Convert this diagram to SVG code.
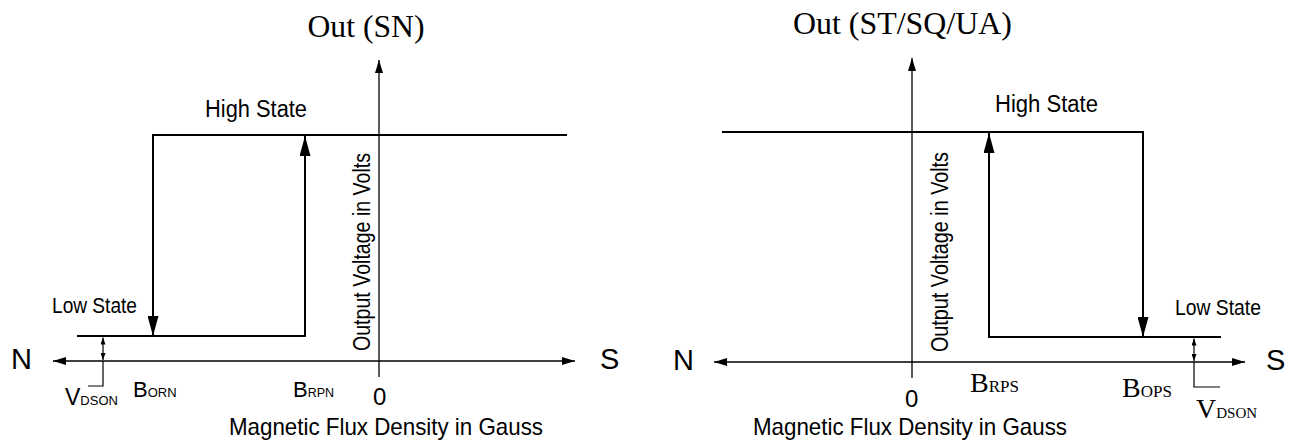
<svg xmlns="http://www.w3.org/2000/svg" width="1296" height="441" viewBox="0 0 1296 441">
  <style>
    .axis { fill: none; stroke: #000; stroke-width: 1.3; }
    .state { fill: none; stroke: #000; stroke-width: 2; }
    .thin { fill: none; stroke: #000; stroke-width: 1.2; }
    .sans { font-family: "Liberation Sans", Arial, sans-serif; fill: #000; }
    .serif { font-family: "Liberation Serif", "Times New Roman", serif; fill: #000; }
    .lbl { font-size: 22px; }
    .hi { font-size: 23px; }
    .rot { font-size: 23px; }
    .pole { font-size: 29px; }
    .title { font-size: 31px; }
  </style>
  <defs>
    <marker id="ahBig" markerUnits="userSpaceOnUse" markerWidth="20" markerHeight="11" refX="20" refY="5.5" orient="auto">
      <path d="M0,0 L20,5.5 L0,11 z" fill="#000"/>
    </marker>
    <marker id="ahAxis" markerUnits="userSpaceOnUse" markerWidth="13" markerHeight="8" refX="13" refY="4" orient="auto-start-reverse">
      <path d="M0,0 L13,4 L0,8 z" fill="#000"/>
    </marker>
    <marker id="ahSmall" markerUnits="userSpaceOnUse" markerWidth="7" markerHeight="5" refX="7" refY="2.5" orient="auto-start-reverse">
      <path d="M0,0 L7,2.5 L0,5 z" fill="#000"/>
    </marker>
  </defs>
  <rect width="1296" height="441" fill="#fff"/>

  <!-- Left chart: Out (SN) -->
  <g id="chart-sn">
    <g id="sn-connectors">
      <path class="axis" d="M379,377 V60" marker-end="url(#ahAxis)"/>
      <path class="axis" d="M53,361 H575" marker-start="url(#ahAxis)" marker-end="url(#ahAxis)"/>
      <path class="state" d="M567,135 H153 V336" marker-end="url(#ahBig)"/>
      <path class="state" d="M77,336 H305 V136" marker-end="url(#ahBig)"/>
      <path class="thin" d="M103,337.5 V360" marker-start="url(#ahSmall)" marker-end="url(#ahSmall)"/>
      <path class="thin" d="M103,361 V386 H88"/>
    </g>
    <g id="sn-labels">
      <text class="serif title" x="366" y="37" text-anchor="middle" textLength="117" lengthAdjust="spacingAndGlyphs">Out (SN)</text>
      <text class="sans hi" x="205" y="117" textLength="102" lengthAdjust="spacingAndGlyphs">High State</text>
      <text class="sans lbl" x="52" y="313" textLength="85" lengthAdjust="spacingAndGlyphs">Low State</text>
      <text class="sans rot" transform="translate(370,252) rotate(-90)" text-anchor="middle" textLength="198" lengthAdjust="spacingAndGlyphs">Output Voltage in Volts</text>
      <text class="sans pole" x="11" y="369">N</text>
      <text class="sans pole" x="600" y="369">S</text>
      <text class="sans" x="65" y="405" font-size="23">V<tspan font-size="13">DSON</tspan></text>
      <text class="sans" x="133" y="397" font-size="22">B<tspan font-size="13">ORN</tspan></text>
      <text class="sans" x="293" y="397" font-size="22">B<tspan font-size="12.5">RPN</tspan></text>
      <text class="sans" x="373" y="405" font-size="24">0</text>
      <text class="sans" x="229" y="435" font-size="24" textLength="314" lengthAdjust="spacingAndGlyphs">Magnetic Flux Density in Gauss</text>
    </g>
  </g>

  <!-- Right chart: Out (ST/SQ/UA) -->
  <g id="chart-st">
    <g id="st-connectors">
      <path class="axis" d="M912,378 V58" marker-end="url(#ahAxis)"/>
      <path class="axis" d="M714,362 H1245" marker-start="url(#ahAxis)" marker-end="url(#ahAxis)"/>
      <path class="state" d="M722,132 H1143 V337" marker-end="url(#ahBig)"/>
      <path class="state" d="M1221,337 H989 V133" marker-end="url(#ahBig)"/>
      <path class="thin" d="M1194,338.5 V361" marker-start="url(#ahSmall)" marker-end="url(#ahSmall)"/>
      <path class="thin" d="M1194,362 V387 H1220"/>
    </g>
    <g id="st-labels">
      <text class="serif title" x="902.5" y="34" text-anchor="middle" textLength="219" lengthAdjust="spacingAndGlyphs">Out (ST/SQ/UA)</text>
      <text class="sans hi" x="995" y="112" textLength="103" lengthAdjust="spacingAndGlyphs">High State</text>
      <text class="sans lbl" x="1175" y="315" textLength="86" lengthAdjust="spacingAndGlyphs">Low State</text>
      <text class="sans rot" transform="translate(948,252) rotate(-90)" text-anchor="middle" textLength="200" lengthAdjust="spacingAndGlyphs">Output Voltage in Volts</text>
      <text class="sans pole" x="673" y="370">N</text>
      <text class="sans pole" x="1266" y="370">S</text>
      <text class="serif" x="970" y="392" font-size="28">B<tspan font-size="17">RPS</tspan></text>
      <text class="serif" x="1122" y="397" font-size="28">B<tspan font-size="17">OPS</tspan></text>
      <text class="serif" x="1196" y="418" font-size="28">V<tspan font-size="15">DSON</tspan></text>
      <text class="sans" x="905" y="407" font-size="24">0</text>
      <text class="sans" x="753" y="435" font-size="24" textLength="314" lengthAdjust="spacingAndGlyphs">Magnetic Flux Density in Gauss</text>
    </g>
  </g>
</svg>
